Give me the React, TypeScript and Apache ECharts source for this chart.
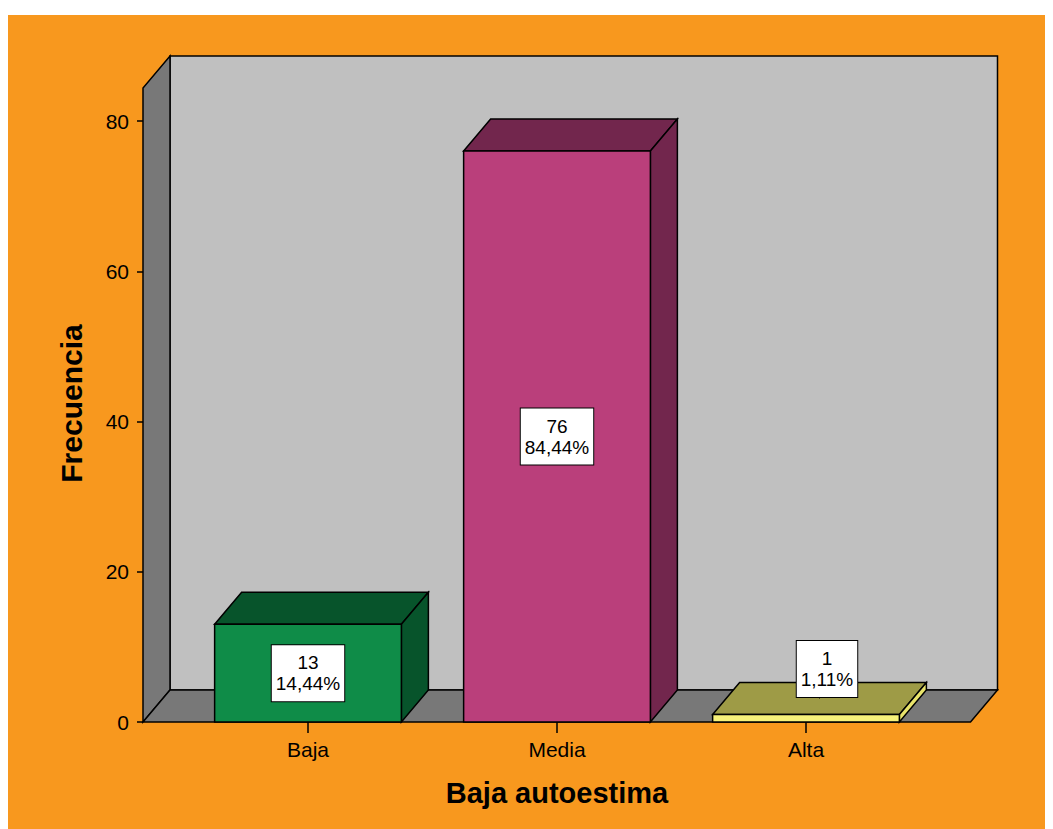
import React, { useEffect, useRef } from "react";
import * as echarts from "echarts";

const categories = ["Baja", "Media", "Alta"];
const counts = [13, 76, 1];
const percents = ["14,44%", "84,44%", "1,11%"];
const yMin = 0;
const yMax = 80;
const yInterval = 20;

const frontColors = ["#0F8C48", "#BA3F7B", "#F7F27A"];
const darkColors = ["#07542B", "#72264D", "#9E9B46"];
const sideColors = ["#07542B", "#72264D", "#E9E46C"];

const DX = 27;
const DY = -32;
const FONT = '"Liberation Sans", Arial, sans-serif';

export default function App() {
  const ref = useRef<HTMLDivElement>(null);
  useEffect(() => {
    if (!ref.current) return;
    const chart = echarts.init(ref.current, null, { renderer: "svg" });
    const barData = categories.map((c, i) => [i, counts[i]]);
    chart.setOption({
      animation: false,
      backgroundColor: "#F8981E",
      grid: { left: 175.5, right: 122.5, top: 106, bottom: 107 },
      xAxis: {
        type: "category",
        data: categories,
        name: "Baja autoestima",
        nameLocation: "middle",
        nameGap: 56,
        nameTextStyle: { fontFamily: FONT, fontSize: 29, fontWeight: "bold", color: "#000" },
        axisLine: { show: false },
        axisTick: { show: true, alignWithLabel: true, length: 11, lineStyle: { color: "#000", width: 1.5 } },
        axisLabel: { fontFamily: FONT, fontSize: 21, color: "#000", margin: 17 },
        splitLine: { show: false },
      },
      yAxis: {
        type: "value",
        min: yMin,
        max: yMax,
        interval: yInterval,
        offset: 40.5,
        name: "Frecuencia",
        nameLocation: "middle",
        nameGap: 57,
        nameTextStyle: { fontFamily: FONT, fontSize: 30, fontWeight: "bold", color: "#000", padding: [0, 0, 0, 36] },
        axisLine: { show: false },
        axisTick: { show: true, length: 6, lineStyle: { color: "#000", width: 1.5 } },
        axisLabel: { fontFamily: FONT, fontSize: 21, color: "#000", margin: 14 },
        splitLine: { show: false },
      },
      series: [
        {
          type: "custom",
          name: "walls",
          z: 1,
          silent: true,
          data: [[0, 0]],
          renderItem: (params: any, api: any) => {
            const cs = params.coordSys;
            const base = api.coord([0, yMin])[1];
            const top = api.coord([0, yMax])[1] - 33;
            const L = cs.x - 40.5;
            const R = cs.x + cs.width + 40;
            const stroke = { stroke: "#000", lineWidth: 1.5 };
            return {
              type: "group",
              children: [
                {
                  type: "rect",
                  shape: { x: L + DX, y: top + DY, width: R - L, height: base - top },
                  style: { fill: "#C0C0C0", ...stroke },
                },
                {
                  type: "polygon",
                  shape: { points: [[L, base], [L, top], [L + DX, top + DY], [L + DX, base + DY]] },
                  style: { fill: "#787878", ...stroke },
                },
                {
                  type: "polygon",
                  shape: { points: [[L, base], [R, base], [R + DX, base + DY], [L + DX, base + DY]] },
                  style: { fill: "#787878", ...stroke },
                },
              ],
            };
          },
        },
        {
          type: "custom",
          name: "Frecuencia",
          z: 2,
          data: barData,
          encode: { x: 0, y: 1 },
          renderItem: (params: any, api: any) => {
            const i = params.dataIndex;
            const cat = api.value(0);
            const v = api.value(1);
            const top = api.coord([cat, v]);
            const base = api.coord([cat, 0]);
            const band = api.size([1, 0])[0];
            const w = band * 0.75;
            const cx = top[0];
            const x0 = cx - w / 2;
            const x1 = cx + w / 2;
            const yT = top[1];
            const yB = base[1];
            const stroke = { stroke: "#000", lineWidth: 1.5 };
            const small = yB - yT < 60;
            const lx = small ? cx + 21 : cx;
            const ly = small ? yB - 53 : (yT + yB) / 2;
            const children: any[] = [
              {
                type: "polygon",
                shape: { points: [[x0, yT], [x0 + DX, yT + DY], [x1 + DX, yT + DY], [x1, yT]] },
                style: { fill: darkColors[i], ...stroke },
              },
              {
                type: "polygon",
                shape: { points: [[x1, yT], [x1 + DX, yT + DY], [x1 + DX, yB + DY], [x1, yB]] },
                style: { fill: sideColors[i], ...stroke },
              },
              {
                type: "rect",
                shape: { x: x0, y: yT, width: w, height: yB - yT },
                style: { fill: frontColors[i], ...stroke },
              },
            ];
            if (small) {
              children.push({
                type: "line",
                shape: { x1: cx + DX / 2, y1: ly + 28, x2: cx + DX / 2, y2: yT + DY / 2 },
                style: { stroke: "#000", lineWidth: 1 },
              });
            }
            children.push({
              type: "text",
              x: lx,
              y: ly,
              style: {
                text: `${v}\n${percents[i]}`,
                fill: "#000",
                font: `19px ${FONT}`,
                align: "center",
                verticalAlign: "middle",
                lineHeight: 21,
                backgroundColor: "#FFFFFF",
                borderColor: "#000",
                borderWidth: 1,
                padding: [7, 4, 7, 4],
              },
            });
            return { type: "group", children };
          },
        },
      ],
    });
    return () => chart.dispose();
  }, []);
  return (
    <div
      ref={ref}
      style={{ width: 1045, height: 814, marginTop: 7, background: "#F8981E" }}
    />
  );
}
